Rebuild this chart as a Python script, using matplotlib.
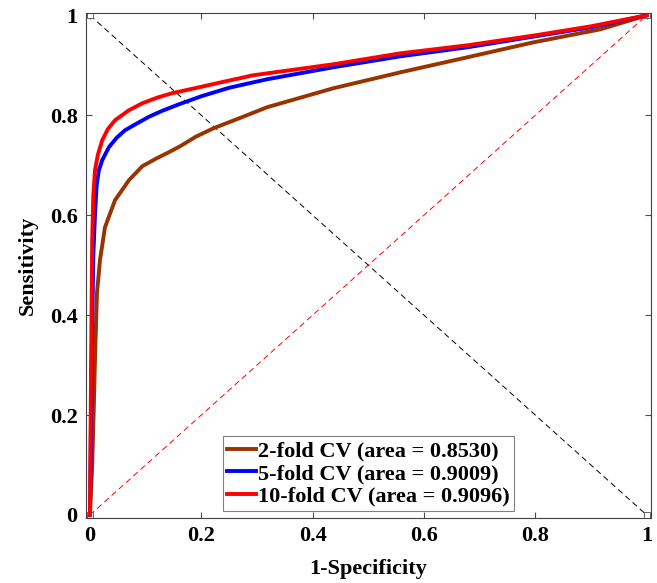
import matplotlib
matplotlib.use("Agg")
import matplotlib.pyplot as plt
from matplotlib.ticker import FuncFormatter

# ROC curves
fpr_2fold = [0, 0.004, 0.007, 0.009, 0.0126, 0.018, 0.027, 0.045, 0.07, 0.094, 0.12, 0.14,
             0.162, 0.19, 0.222, 0.282, 0.318, 0.437, 0.558, 0.678, 0.797, 0.917, 1.0]
tpr_2fold = [0, 0.1, 0.22, 0.31, 0.444, 0.51, 0.576, 0.63, 0.67, 0.698, 0.714, 0.725,
             0.738, 0.757, 0.774, 0.80, 0.816, 0.854, 0.886, 0.916, 0.946, 0.972, 1.0]

fpr_5fold = [0, 0.003, 0.006, 0.009, 0.012, 0.016, 0.022, 0.034, 0.048, 0.063, 0.085, 0.106,
             0.13, 0.16, 0.2, 0.25, 0.318, 0.437, 0.558, 0.678, 0.8, 0.9, 1.0]
tpr_5fold = [0, 0.3, 0.52, 0.6, 0.66, 0.69, 0.71, 0.736, 0.755, 0.77, 0.784, 0.797,
             0.809, 0.822, 0.838, 0.855, 0.872, 0.896, 0.918, 0.936, 0.958, 0.976, 1.0]

fpr_10fold = [0, 0.002, 0.004, 0.006, 0.009, 0.014, 0.022, 0.032, 0.045, 0.07, 0.094, 0.12,
              0.147, 0.196, 0.24, 0.293, 0.437, 0.558, 0.678, 0.8, 0.9, 1.0]
tpr_10fold = [0, 0.3, 0.55, 0.64, 0.69, 0.72, 0.75, 0.772, 0.79, 0.81, 0.824, 0.835,
              0.844, 0.856, 0.867, 0.88, 0.902, 0.924, 0.94, 0.96, 0.978, 1.0]

labels = ["2-fold CV (area = 0.8530)", "5-fold CV (area = 0.9009)", "10-fold CV (area = 0.9096)"]
colors = ["#993300", "#0000ff", "#ff0000"]
ticks = [0, 0.2, 0.4, 0.6, 0.8, 1]

plt.rcParams['font.family'] = ['Liberation Serif', 'DejaVu Serif']
plt.rcParams['font.weight'] = 'bold'

fig = plt.figure(figsize=(6.57, 5.83), dpi=100)
ax = fig.add_axes([0.131, 0.1115, 0.86, 0.8665])

# reference diagonals
ax.plot([0, 1], [1, 0], linestyle=(0, (6, 4)), color="black", lw=0.7,
        marker="s", markersize=4, mfc="white", mec="0.3", mew=0.6)
ax.plot([0, 1], [0, 1], linestyle=(0, (6, 4)), color="red", lw=0.7,
        marker="s", markersize=4, mfc="white", mec="0.3", mew=0.6)

ax.plot(fpr_2fold, tpr_2fold, color=colors[0], lw=2.8, label=labels[0])
ax.plot(fpr_5fold, tpr_5fold, color=colors[1], lw=2.8, label=labels[1])
ax.plot(fpr_10fold, tpr_10fold, color=colors[2], lw=2.8, label=labels[2])

ax.set_xlim(-0.007, 1.008)
ax.set_ylim(-0.006, 1.005)
ax.set_xticks(ticks)
ax.set_yticks(ticks)
fmt = FuncFormatter(lambda v, p: "%g" % v)
ax.xaxis.set_major_formatter(fmt)
ax.yaxis.set_major_formatter(fmt)
ax.tick_params(direction="in", length=4, width=0.8, color="0.3", labelsize=16,
               top=True, right=True, pad=6)
for s in ax.spines.values():
    s.set_color("0.25")
    s.set_linewidth(0.8)

ax.set_xlabel("1-Specificity", fontsize=16, fontweight="bold", labelpad=9)
ax.set_ylabel("Sensitivity", fontsize=16, fontweight="bold", labelpad=9)

leg = ax.legend(loc="lower center", bbox_to_anchor=(0.5, 0.013), fontsize=16,
                handlelength=1.3, handletextpad=0.1, labelspacing=0.1,
                borderpad=0.2, borderaxespad=0, fancybox=False, framealpha=1)
leg.get_frame().set_edgecolor("0.5")
leg.get_frame().set_linewidth(0.8)

fig.savefig("out.png", dpi=100)
